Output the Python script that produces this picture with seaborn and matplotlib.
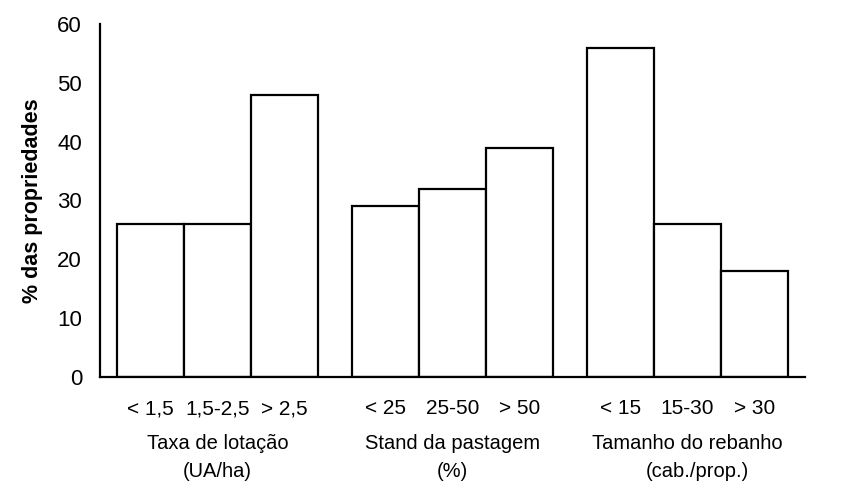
import numpy as np
import pandas as pd
import matplotlib
matplotlib.use('AGG')
from matplotlib import pyplot as plt
from matplotlib import transforms
import seaborn as sns

# Data
categories = ['< 1,5', '1,5-2,5', '> 2,5',
              '< 25', '25-50', '> 50',
              '< 15', '15-30', '> 30']
values = [26, 26, 48, 29, 32, 39, 56, 26, 18]
group_of_bar = [0, 0, 0, 1, 1, 1, 2, 2, 2]
group_titles = ['Taxa de lotação', 'Stand da pastagem', 'Tamanho do rebanho']
group_units = ['(UA/ha)', '(%)', '(cab./prop.)']
y_ticks = [0, 10, 20, 30, 40, 50, 60]

sns.set_style('white')
plt.rcParams['font.family'] = ['Liberation Sans', 'DejaVu Sans']
plt.rcParams['text.color'] = 'black'
plt.rcParams['axes.labelcolor'] = 'black'
plt.rcParams['xtick.color'] = 'black'
plt.rcParams['ytick.color'] = 'black'

# each group takes 3.5 bar widths, with half a bar of gap split on both sides
group_span = 3.5
pos = [group_span * g + 0.75 + (i % 3) for i, g in enumerate(group_of_bar)]
df = pd.DataFrame({'pos': pos, 'value': values, 'cat': categories})

fig = plt.figure(figsize=(8.41, 4.92), dpi=100)
ax = fig.add_axes([0.119, 0.234, 0.838, 0.717])

sns.barplot(data=df, x='pos', y='value', native_scale=True, width=1.0,
            color='white', edgecolor='black', linewidth=1.6, ax=ax)

ax.set_xlim(0, group_span * 3)
ax.set_ylim(0, 60)
ax.set_yticks(y_ticks)
ax.set_yticklabels([str(t) for t in y_ticks], fontsize=16)
ax.tick_params(axis='y', direction='out', length=6, width=1.4, color='black', pad=7)

# bar labels as major ticks (no tick mark), group borders as minor ticks
ax.set_xticks(pos)
ax.set_xticklabels(categories, fontsize=15)
ax.tick_params(axis='x', which='major', length=0, pad=16)
ax.set_xticks([group_span * g for g in range(4)], minor=True)
ax.tick_params(axis='x', which='minor', direction='out', length=6, width=1.4, color='black')

ax.set_xlabel('')
ax.set_ylabel('% das propriedades', fontsize=15.5, fontweight='bold', labelpad=10)

for s in ['top', 'right']:
    ax.spines[s].set_visible(False)
for s in ['left', 'bottom']:
    ax.spines[s].set_linewidth(1.6)
    ax.spines[s].set_color('black')

trans = transforms.blended_transform_factory(ax.transData, ax.transAxes)
for g in range(3):
    xc = group_span * g + group_span / 2
    ax.text(xc, -0.19, group_titles[g], transform=trans, ha='center', va='center', fontsize=14.5)
    ax.text(xc + (0.15 if g == 2 else 0), -0.268, group_units[g], transform=trans,
            ha='center', va='center', fontsize=14.5)

plt.savefig('out.png', dpi=100)
